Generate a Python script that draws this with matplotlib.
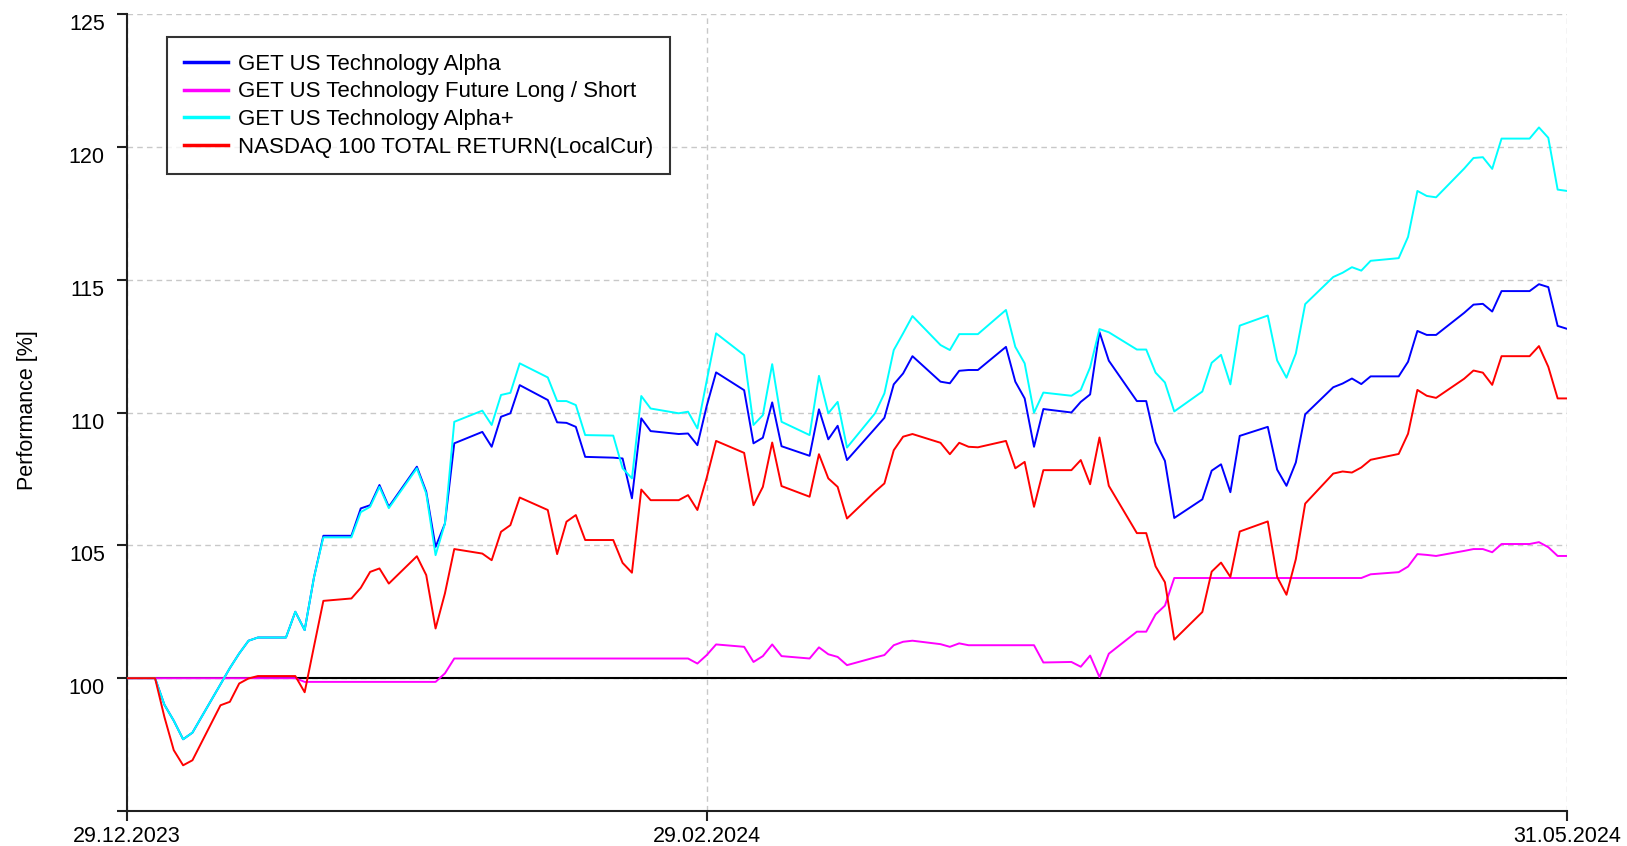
# Performance chart: GET US Technology funds vs NASDAQ 100 TR
import numpy as np
import pandas as pd
import matplotlib
matplotlib.use("Agg")
import matplotlib.pyplot as plt

plt.rcParams['font.family'] = ['Liberation Sans', 'DejaVu Sans']

# trading days (weekdays, holidays carry the previous value)
dates = pd.bdate_range("2023-12-29", "2024-05-31")

alpha = [
    100.0,
    100.0, 99.0, 98.4, 97.7, 97.95,
    99.77, 100.38, 100.93, 101.41, 101.53,
    101.53, 102.5, 101.81, 103.8, 105.36,
    105.36, 106.39, 106.51, 107.27, 106.45,
    107.96, 107.02, 104.94, 105.82, 108.84,
    109.27, 108.71, 109.84, 109.97, 111.03,
    110.47, 109.63, 109.61, 109.46, 108.33,
    108.3, 108.27, 106.77, 109.78, 109.3,
    109.19, 109.21, 108.77, 110.25, 111.51,
    110.84, 108.84, 109.05, 110.38, 108.73,
    108.37, 110.12, 108.99, 109.5, 108.21,
    109.4, 109.8, 111.06, 111.47, 112.12,
    111.16, 111.1, 111.57, 111.6, 111.6,
    112.47, 111.16, 110.53, 108.71, 110.13,
    110.0, 110.4, 110.68, 113.03, 111.95,
    110.43, 110.43, 108.88, 108.18, 106.03,
    106.73, 107.81, 108.05, 107.0, 109.12,
    109.46, 107.85, 107.24, 108.12, 109.93,
    110.95, 111.09, 111.28, 111.07, 111.36,
    111.36, 111.91, 113.07, 112.92, 112.92,
    113.75, 114.06, 114.09, 113.8, 114.57,
    114.57, 114.83, 114.72, 113.26, 113.15,
]

long_short = [
    100.0,
    100.0, 100.0, 100.0, 100.0, 100.0,
    100.0, 100.0, 100.0, 100.0, 100.0,
    100.0, 100.0, 99.86, 99.86, 99.86,
    99.86, 99.86, 99.86, 99.86, 99.86,
    99.86, 99.86, 99.86, 100.18, 100.74,
    100.74, 100.74, 100.74, 100.74, 100.74,
    100.74, 100.74, 100.74, 100.74, 100.74,
    100.74, 100.74, 100.74, 100.74, 100.74,
    100.74, 100.74, 100.55, 100.87, 101.27,
    101.18, 100.61, 100.83, 101.27, 100.83,
    100.74, 101.16, 100.9, 100.8, 100.49,
    100.78, 100.87, 101.24, 101.37, 101.41,
    101.28, 101.18, 101.31, 101.24, 101.24,
    101.24, 101.24, 101.24, 101.24, 100.59,
    100.61, 100.43, 100.85, 100.04, 100.92,
    101.75, 101.75, 102.4, 102.73, 103.77,
    103.77, 103.77, 103.77, 103.77, 103.77,
    103.77, 103.77, 103.77, 103.77, 103.77,
    103.77, 103.77, 103.77, 103.77, 103.91,
    103.99, 104.2, 104.67, 104.64, 104.6,
    104.79, 104.86, 104.86, 104.74, 105.05,
    105.05, 105.12, 104.93, 104.6, 104.6,
]

alpha_plus = [
    100.0,
    100.0, 99.0, 98.4, 97.7, 97.95,
    99.77, 100.38, 100.93, 101.41, 101.53,
    101.53, 102.5, 101.81, 103.8, 105.3,
    105.3, 106.25, 106.45, 107.2, 106.4,
    107.9, 106.95, 104.63, 105.82, 109.65,
    110.07, 109.53, 110.66, 110.74, 111.85,
    111.32, 110.43, 110.43, 110.28, 109.15,
    109.13, 107.9, 107.52, 110.62, 110.15,
    109.97, 110.03, 109.4, 111.2, 112.98,
    112.16, 109.53, 109.9, 111.82, 109.65,
    109.15, 111.38, 109.97, 110.4, 108.68,
    109.97, 110.72, 112.35, 112.98, 113.63,
    112.54, 112.35, 112.95, 112.95, 112.95,
    113.86, 112.47, 111.85, 109.99, 110.75,
    110.63, 110.85, 111.7, 113.14, 113.02,
    112.37, 112.37, 111.5, 111.13, 110.04,
    110.79, 111.87, 112.17, 111.06, 113.27,
    113.65, 111.96, 111.31, 112.22, 114.08,
    115.1, 115.26, 115.47, 115.34, 115.71,
    115.81, 116.61, 118.34, 118.15, 118.1,
    119.18, 119.58, 119.61, 119.17, 120.31,
    120.31, 120.73, 120.34, 118.39, 118.34,
]

nasdaq = [
    100.0,
    100.0, 98.54, 97.29, 96.72, 96.91,
    98.98, 99.11, 99.8, 99.99, 100.08,
    100.08, 100.08, 99.47, 101.2, 102.91,
    103.0, 103.4, 104.0, 104.13, 103.56,
    104.59, 103.88, 101.87, 103.19, 104.86,
    104.69, 104.44, 105.51, 105.76, 106.8,
    106.33, 104.67, 105.89, 106.14, 105.2,
    105.2, 104.34, 103.97, 107.1, 106.7,
    106.7, 106.89, 106.33, 107.55, 108.93,
    108.48, 106.51, 107.2, 108.87, 107.23,
    106.83, 108.43, 107.52, 107.2, 106.01,
    107.02, 107.33, 108.58, 109.09, 109.19,
    108.86, 108.43, 108.86, 108.71, 108.69,
    108.93, 107.9, 108.14, 106.45, 107.83,
    107.83, 108.21, 107.3, 109.06, 107.24,
    105.46, 105.46, 104.21, 103.61, 101.45,
    102.49, 104.01, 104.35, 103.81, 105.52,
    105.9, 103.81, 103.14, 104.48, 106.57,
    107.7, 107.78, 107.74, 107.93, 108.22,
    108.44, 109.2, 110.85, 110.63, 110.55,
    111.27, 111.58, 111.5, 111.04, 112.12,
    112.12, 112.5, 111.72, 110.53, 110.53,
]

labels = ["GET US Technology Alpha",
          "GET US Technology Future Long / Short",
          "GET US Technology Alpha+",
          "NASDAQ 100 TOTAL RETURN(LocalCur)"]
colors = ["#0000FF", "#FF00FF", "#00FFFF", "#FF0000"]

xtick_dates = pd.to_datetime(["2023-12-29", "2024-02-29", "2024-05-31"])
yticks = [95, 100, 105, 110, 115, 120, 125]

fig = plt.figure(figsize=(16.27, 8.46), dpi=100)
ax = fig.add_axes([127 / 1627, 35 / 846, 1440 / 1627, 797 / 846])
ax.set_axisbelow(True)

ax.axhline(100, color="black", lw=1.5, zorder=2)
for series, lab, col in zip([alpha, long_short, alpha_plus, nasdaq], labels, colors):
    ax.plot(dates, series, color=col, lw=1.4, label=lab, zorder=3)

ax.set_xlim(dates[0], dates[-1])
ax.set_ylim(95, 125)
ax.set_xticks(xtick_dates)
ax.set_xticklabels([d.strftime("%d.%m.%Y") for d in xtick_dates])
ax.set_yticks(yticks)
ax.set_yticklabels(["" if t == 95 else str(t) for t in yticks])
plt.setp(ax.get_yticklabels(), va="top")

ax.grid(True, ls=(0, (4, 3)), color="#c8c8c8", lw=1)
for s in ["top", "right"]:
    ax.spines[s].set_visible(False)
for s in ["left", "bottom"]:
    ax.spines[s].set_linewidth(1.5)
    ax.spines[s].set_color("#202020")
ax.tick_params(axis="both", length=7, width=1.5, color="#202020", labelsize=15.5)
ax.tick_params(axis="y", pad=9)
ax.tick_params(axis="x", pad=4)

fig.text(28 / 1627, 1 - 410 / 846, "Performance [%]", rotation=90,
         ha="center", va="center", fontsize=15.5)

leg = ax.legend(loc="upper left", bbox_to_anchor=(0.028, 0.971), borderaxespad=0,
                fontsize=16, frameon=True, fancybox=False, handlelength=1.96,
                handletextpad=0.47, labelspacing=0.3, borderpad=0.75)
leg.get_frame().set_edgecolor("black")
leg.get_frame().set_linewidth(1.5)
for h in leg.get_lines():
    h.set_linewidth(2.5)

fig.savefig("out.png", dpi=100)
